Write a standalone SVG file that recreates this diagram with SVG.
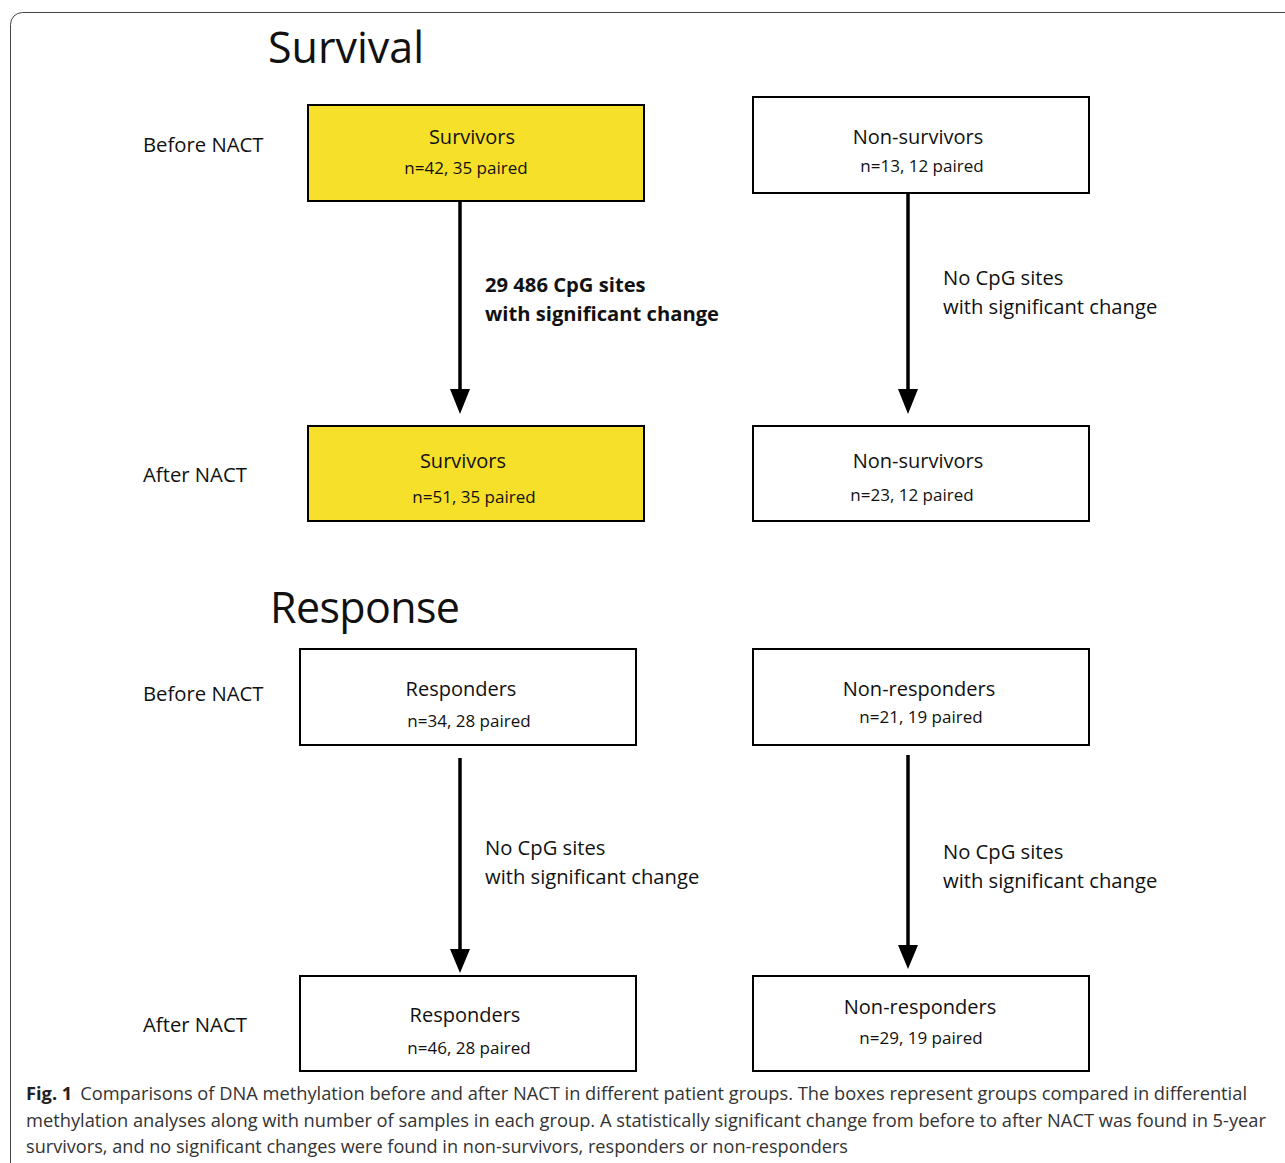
<svg xmlns="http://www.w3.org/2000/svg" width="1285" height="1163" viewBox="0 0 1285 1163">
<style>
text{font-family:"Open Sans","Noto Sans","DejaVu Sans",sans-serif;fill:#111}
.title{font-size:43px}
.side{font-size:20.3px}
.bt{font-size:20px;text-anchor:middle}
.bn{font-size:17px;text-anchor:middle}
.lbl{font-size:20.2px}
.bold{font-weight:bold}
.cap{font-size:18.5px;fill:#333}
.box{fill:#fff;stroke:#000;stroke-width:2}
.yel{fill:#f6e029;stroke:#000;stroke-width:2}
.arr{stroke:#000;stroke-width:3.5;fill:none}
</style>
<rect x="10.5" y="12.5" width="1320" height="1200" rx="12" fill="none" stroke="#444" stroke-width="1"/>

<text class="title" x="268" y="63">Survival</text>
<text class="title" x="270" y="623" textLength="190">Response</text>

<g id="side-labels">
<text class="side" x="143" y="152">Before NACT</text>
<text class="side" x="143" y="482">After NACT</text>
<text class="side" x="143" y="701">Before NACT</text>
<text class="side" x="143" y="1032">After NACT</text>
</g>

<g id="connectors">
<line class="arr" x1="460" y1="202" x2="460" y2="390"/>
<path d="M450,389 L470,389 L460,414 Z" fill="#000"/>
<line class="arr" x1="908" y1="194" x2="908" y2="390"/>
<path d="M898,389 L918,389 L908,414 Z" fill="#000"/>
<line class="arr" x1="460" y1="758" x2="460" y2="950"/>
<path d="M450,949 L470,949 L460,973 Z" fill="#000"/>
<line class="arr" x1="908" y1="755" x2="908" y2="946"/>
<path d="M898,945 L918,945 L908,969 Z" fill="#000"/>
</g>

<g id="edge-labels">
<text class="lbl bold" x="485" y="292">29 486 CpG sites</text>
<text class="lbl bold" x="485" y="321">with significant change</text>
<text class="lbl" x="943" y="285">No CpG sites</text>
<text class="lbl" x="943" y="314">with significant change</text>
<text class="lbl" x="485" y="855">No CpG sites</text>
<text class="lbl" x="485" y="884">with significant change</text>
<text class="lbl" x="943" y="859">No CpG sites</text>
<text class="lbl" x="943" y="888">with significant change</text>
</g>

<g id="survivors-before">
<rect class="yel" x="308" y="105" width="336" height="96"/>
<text class="bt" x="472" y="144">Survivors</text>
<text class="bn" x="466" y="174">n=42, 35 paired</text>
</g>
<g id="nonsurvivors-before">
<rect class="box" x="753" y="97" width="336" height="96"/>
<text class="bt" x="918" y="144">Non-survivors</text>
<text class="bn" x="922" y="172">n=13, 12 paired</text>
</g>
<g id="survivors-after">
<rect class="yel" x="308" y="426" width="336" height="95"/>
<text class="bt" x="463" y="468">Survivors</text>
<text class="bn" x="474" y="503">n=51, 35 paired</text>
</g>
<g id="nonsurvivors-after">
<rect class="box" x="753" y="426" width="336" height="95"/>
<text class="bt" x="918" y="468">Non-survivors</text>
<text class="bn" x="912" y="501">n=23, 12 paired</text>
</g>
<g id="responders-before">
<rect class="box" x="300" y="649" width="336" height="96"/>
<text class="bt" x="461" y="696">Responders</text>
<text class="bn" x="469" y="727">n=34, 28 paired</text>
</g>
<g id="nonresponders-before">
<rect class="box" x="753" y="649" width="336" height="96"/>
<text class="bt" x="919" y="696">Non-responders</text>
<text class="bn" x="921" y="723">n=21, 19 paired</text>
</g>
<g id="responders-after">
<rect class="box" x="300" y="976" width="336" height="95"/>
<text class="bt" x="465" y="1022">Responders</text>
<text class="bn" x="469" y="1054">n=46, 28 paired</text>
</g>
<g id="nonresponders-after">
<rect class="box" x="753" y="976" width="336" height="95"/>
<text class="bt" x="920" y="1014">Non-responders</text>
<text class="bn" x="921" y="1044">n=29, 19 paired</text>
</g>

<g id="caption">
<text class="cap" x="26" y="1100" textLength="1221" lengthAdjust="spacingAndGlyphs"><tspan font-weight="bold" fill="#222">Fig. 1</tspan><tspan dx="8">Comparisons of DNA methylation before and after NACT in different patient groups. The boxes represent groups compared in differential</tspan></text>
<text class="cap" x="26" y="1127" textLength="1240" lengthAdjust="spacingAndGlyphs">methylation analyses along with number of samples in each group. A statistically significant change from before to after NACT was found in 5-year</text>
<text class="cap" x="26" y="1153" textLength="822" lengthAdjust="spacingAndGlyphs">survivors, and no significant changes were found in non-survivors, responders or non-responders</text>
</g>
</svg>
